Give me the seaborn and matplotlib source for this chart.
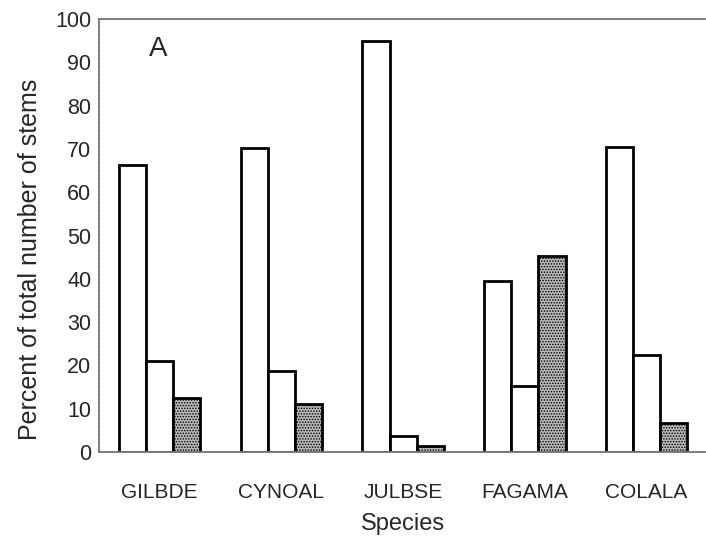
import matplotlib
matplotlib.use("Agg")
import matplotlib.pyplot as plt
import seaborn as sns
import pandas as pd

# Percent of total stems per species, split into three stem classes
species = ["GILBDE", "CYNOAL", "JULBSE", "FAGAMA", "COLALA"]
class_1 = [66.4, 70.3, 95.0, 39.5, 70.5]
class_2 = [21.0, 18.6, 3.8, 15.2, 22.4]
class_3 = [12.5, 11.0, 1.5, 45.3, 6.8]
classes = ["class 1", "class 2", "class 3"]
y_ticks = [0, 10, 20, 30, 40, 50, 60, 70, 80, 90, 100]

rows = []
for name, vals in zip(classes, [class_1, class_2, class_3]):
    for sp, v in zip(species, vals):
        rows.append({"Species": sp, "Class": name, "Percent": v})
df = pd.DataFrame(rows)

sns.set_style("white")
plt.rcParams["font.family"] = ["Liberation Sans", "DejaVu Sans"]
plt.rcParams["hatch.color"] = "#606060"
plt.rcParams["hatch.linewidth"] = 0.7

fig = plt.figure(figsize=(7.06, 5.39), dpi=100)
ax = fig.add_axes([0.140, 0.1614, 0.862, 0.8033])

sns.barplot(data=df, x="Species", y="Percent", hue="Class", order=species,
            hue_order=classes, palette=["white", "white", "#b8b8b8"],
            width=0.67, edgecolor="black", linewidth=2.0, saturation=1,
            legend=False, ax=ax)

# stipple the third class
for patch in ax.containers[2]:
    patch.set_hatch("......")

ax.set_xlim(-0.5, 4.5)
ax.set_ylim(0, 100)
ax.set_yticks(y_ticks)
ax.tick_params(axis="y", direction="inout", length=7, width=0.8,
               color="#555555", labelsize=15.5, pad=2)
ax.tick_params(axis="x", which="major", length=0, labelsize=15, pad=22)
ax.set_xticks([0.5, 1.5, 2.5, 3.5], minor=True)
ax.tick_params(axis="x", which="minor", direction="inout", length=8,
               width=0.6, color="#777777")

for side in ["left", "top", "bottom"]:
    ax.spines[side].set_color("#777777")
    ax.spines[side].set_linewidth(1.2)
    ax.spines[side].set_linestyle((0, (1, 0.6)))
ax.spines["right"].set_visible(False)

ax.set_ylabel("Percent of total number of stems", fontsize=18)
ax.yaxis.set_label_coords(-0.094, 0.445)
ax.set_xlabel("Species", fontsize=17, labelpad=8)
ax.text(0.083, 0.93, "A", transform=ax.transAxes, fontsize=20,
        ha="left", va="center")

fig.savefig("out.png", dpi=100)
